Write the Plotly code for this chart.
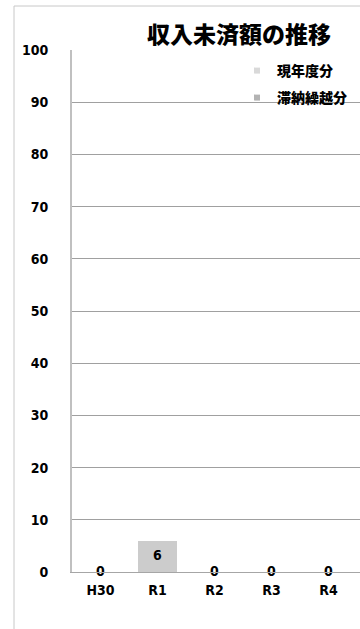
import plotly.graph_objects as go

categories = ["H30", "R1", "R2", "R3", "R4"]
current_year = [0, 6, 0, 0, 0]      # 現年度分
carried_over = [0, 0, 0, 0, 0]      # 滞納繰越分
series_names = ["現年度分", "滞納繰越分"]
series_colors = ["#cccccc", "#a6a6a6"]
legend_colors = ["#d9d9d9", "#b3b3b3"]
title_text = "収入未済額の推移"
y_ticks = list(range(0, 101, 10))

totals = [a + b for a, b in zip(current_year, carried_over)]

FONT = "DejaVu Sans Condensed, Noto Sans CJK JP, sans-serif"
CJK = "Noto Sans CJK JP"

fig = go.Figure()
for vals, name, col in zip([current_year, carried_over], series_names, series_colors):
    fig.add_trace(go.Bar(x=categories, y=vals, name=name, marker_color=col,
                         marker_line_width=0, showlegend=False))

# data labels centred in the stacks
fig.add_trace(go.Scatter(x=categories, y=[t / 2 for t in totals], mode="text",
                         text=[str(t) for t in totals], textposition="middle center",
                         textfont=dict(family=FONT, size=14, color="#000000", weight="bold"),
                         showlegend=False, cliponaxis=False, hoverinfo="skip"))

# legend entries (small square markers)
for i, (name, col) in enumerate(zip(series_names, legend_colors)):
    fig.add_trace(go.Scatter(x=[None], y=[None], mode="markers", name=name,
                             marker=dict(symbol="square", size=6, color=col),
                             legend="legend" if i == 0 else "legend2"))

H, W = 629, 360
L, R, T, B = 72, 0, 50, 57
pw, ph = W - L - R, H - T - B

def px_x(x):
    return (x - L) / pw

def px_y(y):
    return (H - B - y) / ph

legend_font = dict(family=CJK, size=14, color="#000000", weight=900)

fig.update_layout(
    width=W, height=H,
    margin=dict(l=L, r=R, t=T, b=B),
    paper_bgcolor="white", plot_bgcolor="white",
    barmode="stack", bargap=0.33,
    font=dict(family=FONT, size=14, color="#000000"),
    title=dict(text=title_text, x=239 / W, xanchor="center", xref="container",
               y=1 - 35 / H, yanchor="middle", yref="container",
               font=dict(family=CJK, size=23, color="#000000", weight=900)),
    legend=dict(x=px_x(237), xanchor="left", y=px_y(71), yanchor="middle",
                bgcolor="rgba(0,0,0,0)", borderwidth=0, font=legend_font),
    legend2=dict(x=px_x(237), xanchor="left", y=px_y(98), yanchor="middle",
                 bgcolor="rgba(0,0,0,0)", borderwidth=0, font=legend_font),
    xaxis=dict(range=[-0.5, -0.5 + pw / 57.0], showgrid=False, zeroline=False,
               showline=True, linecolor="#a6a6a6", linewidth=1,
               tickfont=dict(family=FONT, size=14, weight="bold"),
               ticklabelstandoff=5, fixedrange=True),
    yaxis=dict(range=[0, 100], tickvals=y_ticks, showgrid=True, gridcolor="#a0a0a0",
               gridwidth=1, zeroline=False, showline=True, linecolor="#c0c0c0", linewidth=2,
               tickfont=dict(family=FONT, size=14, weight="bold"),
               ticklabelstandoff=19, fixedrange=True),
    shapes=[dict(type="rect", xref="paper", yref="paper",
                 x0=px_x(14), x1=px_x(400), y0=px_y(700), y1=px_y(6),
                 line=dict(color="#c8c8c8", width=1), fillcolor="rgba(0,0,0,0)", layer="below")],
)

fig.write_html("out.html")
